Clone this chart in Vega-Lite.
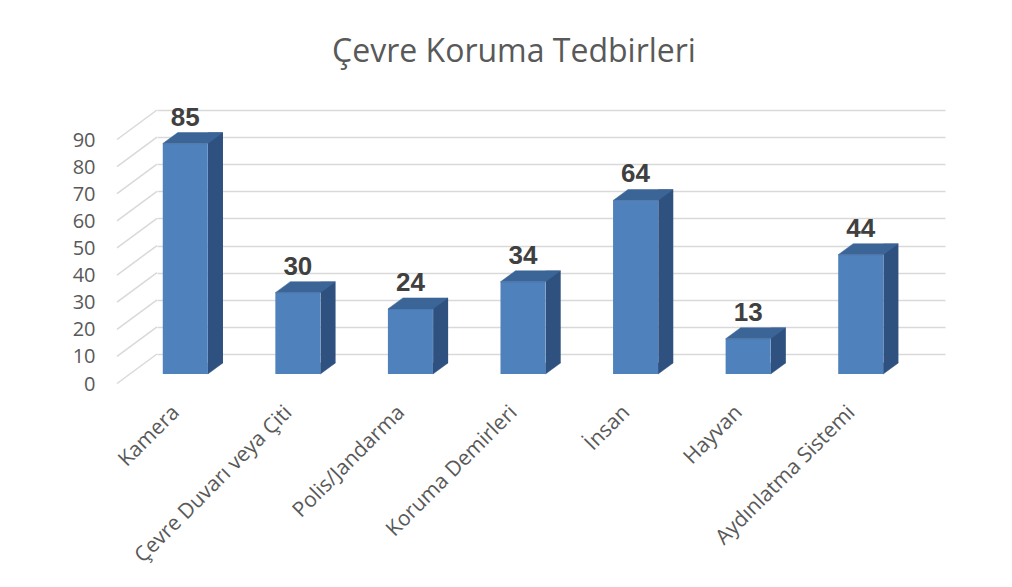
{
  "$schema": "https://vega.github.io/schema/vega-lite/v6.json",
  "autosize": {"type": "none"},
  "padding": {"left": 157, "top": 110, "right": 67, "bottom": 233},
  "width": 788,
  "height": 244,
  "background": "white",
  "title": {
    "text": "Çevre Koruma Tedbirleri",
    "font": "Open Sans",
    "fontSize": 32,
    "fontWeight": "normal",
    "color": "#595959",
    "anchor": "middle",
    "baseline": "alphabetic",
    "offset": 11,
    "dx": -37
  },
  "datasets": {
    "bars": [
      {"cat": "Kamera", "v": 85},
      {"cat": "Çevre Duvarı veya Çiti", "v": 30},
      {"cat": "Polis/Jandarma", "v": 24},
      {"cat": "Koruma Demirleri", "v": 34},
      {"cat": "İnsan", "v": 64},
      {"cat": "Hayvan", "v": 13},
      {"cat": "Aydınlatma Sistemi", "v": 44}
    ],
    "ticks": [
      {"v": 0}, {"v": 10}, {"v": 20}, {"v": 30}, {"v": 40},
      {"v": 50}, {"v": 60}, {"v": 70}, {"v": 80}, {"v": 90}
    ]
  },
  "config": {
    "view": {"stroke": null},
    "axis": {"domain": false, "ticks": false},
    "axisY": {
      "labelFont": "Open Sans", "labelFontSize": 20, "labelColor": "#595959",
      "labelPadding": 62, "labelOffset": 30, "labelBaseline": "middle", "labelOverlap": false,
      "grid": true, "gridColor": "#D9D9D9", "gridWidth": 1.5, "tickCount": 10
    },
    "axisX": {
      "grid": false, "labelAngle": -45, "labelAlign": "right", "labelBaseline": "middle",
      "labelFont": "Open Sans", "labelFontSize": 21, "labelColor": "#595959",
      "labelPadding": 55, "labelOffset": -37, "labelLimit": 0, "labelOverlap": false
    }
  },
  "encoding": {
    "y": {
      "field": "v", "type": "quantitative", "title": null,
      "scale": {"domain": [0, 90], "nice": false},
      "axis": {"values": [0, 10, 20, 30, 40, 50, 60, 70, 80, 90], "tickCount": 10}
    }
  },
  "layer": [
    {
      "data": {"name": "ticks"},
      "mark": {"type": "rule", "color": "#D9D9D9", "strokeWidth": 1.5, "yOffset": 29.5, "y2Offset": 0},
      "encoding": {
        "x": {"value": -40},
        "x2": {"value": 0},
        "y2": {"field": "v"}
      }
    },
    {
      "data": {"name": "bars"},
      "encoding": {
        "x": {"field": "cat", "type": "nominal", "sort": null, "title": null,
              "scale": {"paddingInner": 0.6, "paddingOuter": 0.3}}
      },
      "layer": [
        {
          "mark": {"type": "bar", "color": "#2F5180", "width": 15, "xOffset": 2.2, "x2Offset": 2.2, "yOffset": 9, "y2Offset": 9}
        },
        {
          "mark": {"type": "point", "shape": "M -5.5 9 L 9.5 9 L -5.5 20 Z", "size": 4, "filled": true, "opacity": 1, "fill": "#2F5180", "stroke": "#2F5180", "strokeWidth": 0.5, "yOffset": 0},
          "encoding": {
            "y": {"datum": 0, "type": "quantitative", "title": null}
          }
        },
        {
          "mark": {"type": "bar", "color": "#4F81BD", "xOffset": -28, "x2Offset": -28, "yOffset": 20, "y2Offset": 20}
        },
        {
          "mark": {"type": "point", "shape": "M -50.5 20 L -5.5 20 L 9.5 9 L -35.5 9 Z", "size": 4, "filled": true, "opacity": 1, "fill": "#3C6597", "stroke": "#3C6597", "strokeWidth": 0.5}
        },
        {
          "mark": {"type": "text", "font": "Liberation Sans", "fontSize": 26, "fontWeight": "bold", "color": "#404040", "baseline": "alphabetic", "align": "center", "xOffset": -28, "yOffset": 2},
          "encoding": {
            "text": {"field": "v", "type": "quantitative"}
          }
        }
      ]
    }
  ]
}
